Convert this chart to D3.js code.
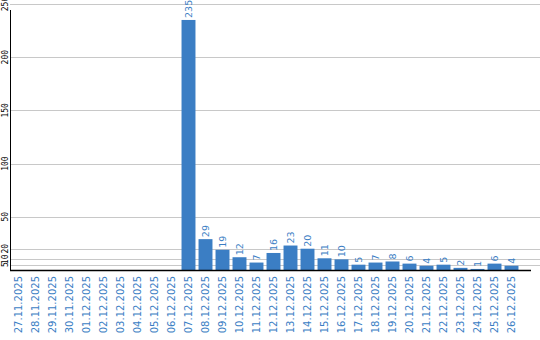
<!DOCTYPE html>
<html>
<head>
<meta charset="utf-8">
<script src="https://cdn.jsdelivr.net/npm/d3@7"></script>
<style>
  body { margin: 0; background: #fff; }
</style>
</head>
<body>
<div id="chart"></div>
<script>
var dates = ["27.11.2025", "28.11.2025", "29.11.2025", "30.11.2025", "01.12.2025",
	"02.12.2025", "03.12.2025", "04.12.2025", "05.12.2025", "06.12.2025",
	"07.12.2025", "08.12.2025", "09.12.2025", "10.12.2025", "11.12.2025",
	"12.12.2025", "13.12.2025", "14.12.2025", "15.12.2025", "16.12.2025",
	"17.12.2025", "18.12.2025", "19.12.2025", "20.12.2025", "21.12.2025",
	"22.12.2025", "23.12.2025", "24.12.2025", "25.12.2025", "26.12.2025"]
var counts = [0, 0, 0, 0, 0, 0, 0, 0, 0, 0,
	235, 29, 19, 12, 7, 16, 23, 20, 11, 10,
	5, 7, 8, 6, 4, 5, 2, 1, 6, 4]
var yTicks = [5, 10, 20, 50, 100, 150, 200, 250]

var data = dates.map(function(d, i) { return { date: d, value: counts[i] }; })

var blue = "#3b7ec4"

var svg = d3.select("#chart").append("svg")
	.attr("width", 540)
	.attr("height", 340)

var x = d3.scaleBand()
	.domain(dates)
	.range([10, 520])
	.paddingInner(0.18)
	.paddingOuter(0.09)

var y = d3.scaleLinear()
	.domain([0, 250])
	.range([270, 4])

// grid lines
svg.selectAll("line.grid")
	.data(yTicks)
	.enter()
		.append("line")
		.attr("class", "grid")
		.attr("x1", 10)
		.attr("x2", 540)
		.attr("y1", function(d) { return Math.round(y(d)) + 0.5; })
		.attr("y2", function(d) { return Math.round(y(d)) + 0.5; })
		.attr("stroke", "#c8c8c8")
		.attr("stroke-width", 1)

// y tick labels (rotated)
svg.selectAll("text.ytick")
	.data(yTicks)
	.enter()
		.append("text")
		.attr("class", "ytick")
		.attr("transform", function(d) { return "translate(8," + y(d) + ") rotate(-90)"; })
		.attr("text-anchor", "middle")
		.attr("font-family", "DejaVu Sans Mono")
		.attr("font-size", "8px")
		.attr("fill", "#000")
		.text(function(d) { return d; })

// bars
svg.selectAll("rect")
	.data(data.filter(function(d) { return d.value > 0; }))
	.enter()
		.append("rect")
		.attr("fill", blue)
		.attr("x", function(d) { return x(d.date); })
		.attr("width", x.bandwidth())
		.attr("y", function(d) { return y(d.value); })
		.attr("height", function(d) { return y(0) - y(d.value); })

// value labels
svg.selectAll("text.val")
	.data(data.filter(function(d) { return d.value > 0; }))
	.enter()
		.append("text")
		.attr("class", "val")
		.attr("transform", function(d) {
			return "translate(" + (x(d.date) + x.bandwidth() / 2) + "," + (y(d.value) - 2) + ") rotate(-90)";
		})
		.attr("dy", "0.35em")
		.attr("font-family", "DejaVu Sans")
		.attr("font-size", "9.5px")
		.attr("fill", blue)
		.text(function(d) { return d.value; })

// x labels
svg.selectAll("text.xl")
	.data(dates)
	.enter()
		.append("text")
		.attr("class", "xl")
		.attr("transform", function(d) {
			return "translate(" + (x(d) + x.bandwidth() / 2) + ",276) rotate(-90)";
		})
		.attr("dy", "0.35em")
		.attr("text-anchor", "end")
		.attr("font-family", "DejaVu Sans")
		.attr("font-size", "10px")
		.attr("fill", blue)
		.text(function(d) { return d; })

// axis lines
svg.append("line")
	.attr("x1", 10.5).attr("x2", 10.5)
	.attr("y1", 10).attr("y2", 270)
	.attr("stroke", "#000")
svg.append("line")
	.attr("x1", 10).attr("x2", 531)
	.attr("y1", 270.5).attr("y2", 270.5)
	.attr("stroke", "#000")
	.attr("stroke-width", 1.5)
</script>
</body>
</html>
